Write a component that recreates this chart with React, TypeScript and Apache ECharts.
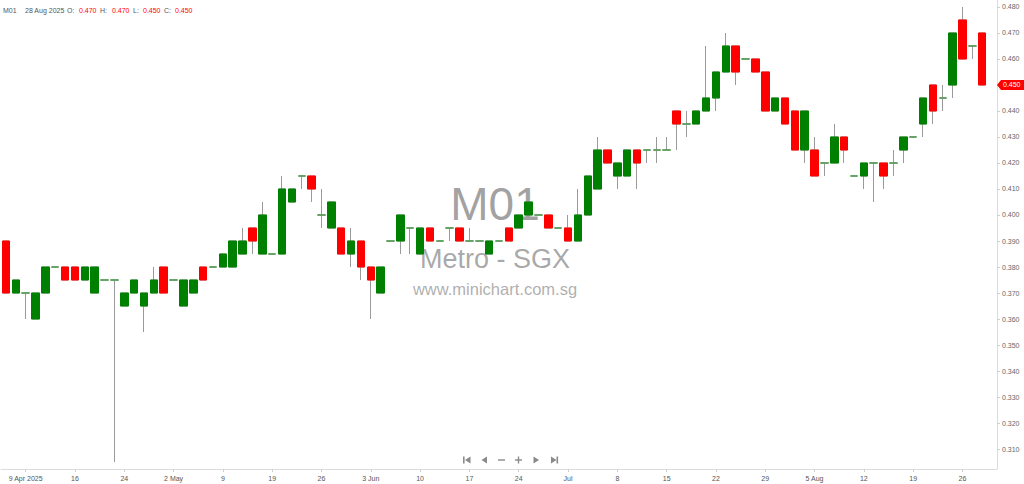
import React, { useEffect, useRef } from "react";
import * as echarts from "echarts";

// M01 (Metro - SGX) daily prices, 7 Apr 2025 .. 28 Aug 2025
const tickLabels = [
  "9 Apr 2025", "16", "24", "2 May", "9", "19", "26", "3 Jun", "10", "17",
  "24", "Jul", "8", "15", "22", "29", "5 Aug", "12", "19", "26",
];

const opens = [
  0.39, 0.37, 0.37, 0.36, 0.37, 0.38, 0.38, 0.38, 0.375, 0.37,
  0.375, 0.375, 0.365, 0.37, 0.365, 0.37, 0.38, 0.375, 0.365, 0.37,
  0.38, 0.38, 0.38, 0.38, 0.385, 0.395, 0.385, 0.385, 0.385, 0.405,
  0.415, 0.415, 0.4, 0.395, 0.395, 0.385, 0.39, 0.38, 0.37, 0.39,
  0.39, 0.395, 0.385, 0.395, 0.39, 0.395, 0.395, 0.39, 0.39, 0.385,
  0.39, 0.395, 0.395, 0.4, 0.4, 0.4, 0.395, 0.395, 0.39, 0.4,
  0.41, 0.425, 0.415, 0.415, 0.425, 0.425, 0.425, 0.425, 0.44, 0.435,
  0.435, 0.44, 0.445, 0.455, 0.465, 0.46, 0.46, 0.455, 0.44, 0.445,
  0.44, 0.425, 0.425, 0.42, 0.42, 0.43, 0.415, 0.415, 0.42, 0.42,
  0.42, 0.425, 0.43, 0.435, 0.45, 0.445, 0.45, 0.475, 0.465, 0.47,
];

const highs = [
  0.39, 0.375, 0.37, 0.37, 0.38, 0.38, 0.38, 0.38, 0.38, 0.38,
  0.375, 0.375, 0.37, 0.375, 0.37, 0.38, 0.38, 0.375, 0.375, 0.375,
  0.38, 0.38, 0.385, 0.39, 0.395, 0.395, 0.405, 0.385, 0.415, 0.41,
  0.415, 0.415, 0.41, 0.405, 0.395, 0.395, 0.39, 0.38, 0.38, 0.39,
  0.4, 0.395, 0.395, 0.395, 0.39, 0.395, 0.395, 0.395, 0.39, 0.39,
  0.39, 0.395, 0.4, 0.405, 0.4, 0.4, 0.395, 0.4, 0.41, 0.415,
  0.43, 0.425, 0.42, 0.425, 0.425, 0.425, 0.43, 0.43, 0.44, 0.44,
  0.44, 0.465, 0.455, 0.47, 0.465, 0.46, 0.46, 0.455, 0.445, 0.445,
  0.44, 0.44, 0.43, 0.42, 0.435, 0.43, 0.415, 0.42, 0.42, 0.42,
  0.425, 0.43, 0.43, 0.445, 0.45, 0.45, 0.47, 0.48, 0.465, 0.47,
];

const lows = [
  0.37, 0.37, 0.36, 0.36, 0.37, 0.38, 0.375, 0.375, 0.375, 0.37,
  0.375, 0.305, 0.365, 0.37, 0.355, 0.37, 0.37, 0.375, 0.365, 0.37,
  0.375, 0.38, 0.38, 0.38, 0.385, 0.385, 0.385, 0.385, 0.385, 0.405,
  0.41, 0.405, 0.395, 0.395, 0.385, 0.38, 0.375, 0.36, 0.37, 0.39,
  0.385, 0.385, 0.385, 0.39, 0.39, 0.39, 0.39, 0.39, 0.39, 0.385,
  0.39, 0.39, 0.395, 0.4, 0.4, 0.395, 0.395, 0.39, 0.39, 0.4,
  0.41, 0.42, 0.41, 0.415, 0.41, 0.42, 0.42, 0.425, 0.425, 0.43,
  0.435, 0.44, 0.44, 0.455, 0.45, 0.46, 0.455, 0.44, 0.44, 0.435,
  0.425, 0.42, 0.415, 0.415, 0.42, 0.42, 0.415, 0.41, 0.405, 0.41,
  0.415, 0.42, 0.43, 0.43, 0.435, 0.44, 0.445, 0.46, 0.46, 0.45,
];

const closes = [
  0.37, 0.375, 0.37, 0.37, 0.38, 0.38, 0.375, 0.375, 0.38, 0.38,
  0.375, 0.375, 0.37, 0.375, 0.37, 0.375, 0.37, 0.375, 0.375, 0.375,
  0.375, 0.38, 0.385, 0.39, 0.39, 0.39, 0.4, 0.385, 0.41, 0.41,
  0.415, 0.41, 0.4, 0.405, 0.385, 0.39, 0.38, 0.375, 0.38, 0.39,
  0.4, 0.395, 0.395, 0.39, 0.39, 0.395, 0.39, 0.39, 0.39, 0.39,
  0.39, 0.39, 0.4, 0.405, 0.4, 0.395, 0.395, 0.39, 0.4, 0.415,
  0.425, 0.42, 0.42, 0.425, 0.42, 0.425, 0.425, 0.425, 0.435, 0.435,
  0.44, 0.445, 0.455, 0.465, 0.455, 0.46, 0.455, 0.44, 0.445, 0.435,
  0.425, 0.44, 0.415, 0.42, 0.43, 0.425, 0.415, 0.42, 0.42, 0.415,
  0.42, 0.43, 0.43, 0.445, 0.44, 0.445, 0.47, 0.46, 0.465, 0.45,
];

const lastDate = "28 Aug 2025";
const symbol = "M01";
const exchangeName = "Metro - SGX";
const siteUrl = "www.minichart.com.sg";

const UP = "#008000";
const DOWN = "#ff0000";
const FLAT = "#4f9f4f";
const WICK = "#9a9a9a";
const FONT = '"Liberation Sans", Arial, sans-serif';
const SMALL = 7;

const FIRST_LABEL = 2;
const LABEL_STEP = 5;
const SLOTS = opens.length + 1; // one empty slot on the right

const isLabelSlot = (i: number) =>
  i >= FIRST_LABEL &&
  (i - FIRST_LABEL) % LABEL_STEP === 0 &&
  (i - FIRST_LABEL) / LABEL_STEP < tickLabels.length;

const App: React.FC = () => {
  const chartRef = useRef<HTMLDivElement | null>(null);

  useEffect(() => {
    const dom = chartRef.current;
    if (!dom) return;
    const chart = echarts.init(dom, undefined, { renderer: "svg" });

    const slots = Array.from({ length: SLOTS }, (_, i) => "s" + i);

    // gray wick layer: full high/low range, hollow body
    const wickData = opens.map((o, i) => [o, closes[i], lows[i], highs[i]]);
    // coloured body layer on top
    const bodyData = opens.map((o, i) => {
      const c = closes[i];
      const col = c < o ? DOWN : c > o ? UP : FLAT;
      return {
        value: [o, c, Math.min(o, c), Math.max(o, c)],
        itemStyle: { color: col, color0: col, borderColor: col, borderColor0: col },
      };
    });

    const n = opens.length - 1;
    const fmt = (v: number) => v.toFixed(3);

    // header line: symbol, date and last OHLC
    const headerParts: [number, string, string][] = [
      [3, symbol, "#555"],
      [25, lastDate, "#555"],
      [67, "O:", "#555"],
      [79, fmt(opens[n]), "#ff0000"],
      [100, "H:", "#555"],
      [112, fmt(highs[n]), "#ff0000"],
      [133, "L:", "#555"],
      [143, fmt(lows[n]), "#ff0000"],
      [164, "C:", "#555"],
      [175, fmt(closes[n]), "#ff0000"],
    ];
    const header = headerParts.map(([x, text, fill]) => ({
      type: "text",
      x,
      y: 10,
      z: 10,
      silent: true,
      style: { text, fill, fontSize: SMALL, fontFamily: FONT, verticalAlign: "middle" },
    }));

    const navColor = "#8a8a8a";
    const navY = 460;
    const navButtons = [
      { type: "rect", shape: { x: 463, y: navY - 3.5, width: 1.6, height: 7 }, style: { fill: navColor } },
      { type: "polygon", shape: { points: [[465, navY], [470.5, navY - 3.5], [470.5, navY + 3.5]] }, style: { fill: navColor } },
      { type: "polygon", shape: { points: [[481.5, navY], [487, navY - 3.5], [487, navY + 3.5]] }, style: { fill: navColor } },
      { type: "rect", shape: { x: 498, y: navY - 0.7, width: 7, height: 1.4 }, style: { fill: navColor } },
      { type: "rect", shape: { x: 515, y: navY - 0.7, width: 7, height: 1.4 }, style: { fill: navColor } },
      { type: "rect", shape: { x: 517.8, y: navY - 3.5, width: 1.4, height: 7 }, style: { fill: navColor } },
      { type: "polygon", shape: { points: [[539, navY], [533.5, navY - 3.5], [533.5, navY + 3.5]] }, style: { fill: navColor } },
      { type: "polygon", shape: { points: [[556.5, navY], [551, navY - 3.5], [551, navY + 3.5]] }, style: { fill: navColor } },
      { type: "rect", shape: { x: 556.5, y: navY - 3.5, width: 1.6, height: 7 }, style: { fill: navColor } },
    ].map((e) => ({ ...e, z: 10, silent: true }));

    const watermark = (text: string, y: number, size: number, fill: string) => ({
      type: "text",
      x: 495,
      y,
      z: 0,
      silent: true,
      style: { text, fontSize: size, fontFamily: FONT, fill, align: "center", verticalAlign: "middle" },
    });

    const baseGraphics: any[] = [
      watermark(symbol, 204, 46, "rgba(120,120,120,0.7)"),
      watermark(exchangeName, 259, 27, "rgba(130,130,130,0.7)"),
      watermark(siteUrl, 289, 16.5, "rgba(140,140,140,0.7)"),
      ...header,
      ...navButtons,
    ];

    const option: any = {
      animation: false,
      backgroundColor: "#ffffff",
      textStyle: { fontFamily: FONT },
      grid: { left: 1, right: 27, top: 0, bottom: 15 },
      xAxis: {
        type: "category",
        data: slots,
        boundaryGap: true,
        axisLine: { show: true, lineStyle: { color: "#dcdcdc", width: 1 } },
        axisTick: {
          show: true,
          alignWithLabel: true,
          interval: (i: number) => isLabelSlot(i),
          length: 3,
          lineStyle: { color: "#cfcfcf" },
        },
        axisLabel: {
          show: true,
          interval: (i: number) => isLabelSlot(i),
          formatter: (_v: string, i: number) =>
            isLabelSlot(i) ? tickLabels[(i - FIRST_LABEL) / LABEL_STEP] : "",
          color: "#555",
          fontSize: SMALL,
          fontFamily: FONT,
          margin: 6,
        },
        splitLine: { show: false },
      },
      yAxis: {
        type: "value",
        position: "right",
        min: 0.30231,
        max: 0.48269,
        splitNumber: 18,
        axisLine: { show: true, lineStyle: { color: "#dcdcdc", width: 1 } },
        axisTick: { show: true, length: 3, lineStyle: { color: "#cfcfcf" } },
        axisLabel: {
          color: "#666",
          fontSize: SMALL,
          fontFamily: FONT,
          margin: 5,
          showMinLabel: false,
          showMaxLabel: false,
          formatter: (v: number) => v.toFixed(3),
        },
        splitLine: { show: false },
      },
      series: [
        {
          type: "candlestick",
          name: "range",
          data: wickData,
          barWidth: 8,
          z: 2,
          silent: true,
          itemStyle: {
            color: "rgba(0,0,0,0)",
            color0: "rgba(0,0,0,0)",
            borderColor: WICK,
            borderColor0: WICK,
            borderWidth: 1,
          },
        },
        {
          type: "candlestick",
          name: symbol,
          data: bodyData,
          barWidth: 8,
          z: 3,
          silent: true,
          itemStyle: { borderWidth: 1 },
        },
      ],
      graphic: baseGraphics,
    };

    chart.setOption(option);

    // last price tag on the price axis
    const tagY = chart.convertToPixel({ yAxisIndex: 0 }, closes[n]) as number;
    const axisX = 997;
    const half = 5;
    chart.setOption({
      graphic: [
        ...baseGraphics,
        {
          type: "polygon",
          z: 20,
          silent: true,
          shape: {
            points: [
              [axisX, tagY],
              [axisX + 4, tagY - half],
              [1024, tagY - half],
              [1024, tagY + half],
              [axisX + 4, tagY + half],
            ],
          },
          style: { fill: closes[n] < opens[n] ? DOWN : UP },
        },
        {
          type: "text",
          z: 21,
          silent: true,
          x: axisX + 6,
          y: tagY,
          style: {
            text: fmt(closes[n]),
            fill: "#ffffff",
            fontSize: SMALL,
            fontFamily: FONT,
            verticalAlign: "middle",
          },
        },
      ],
    });

    return () => {
      chart.dispose();
    };
  }, []);

  return (
    <div
      ref={chartRef}
      style={{
        position: "fixed",
        top: 0,
        left: 0,
        width: "1024px",
        height: "484px",
        background: "#fff",
      }}
    />
  );
};

export default App;
